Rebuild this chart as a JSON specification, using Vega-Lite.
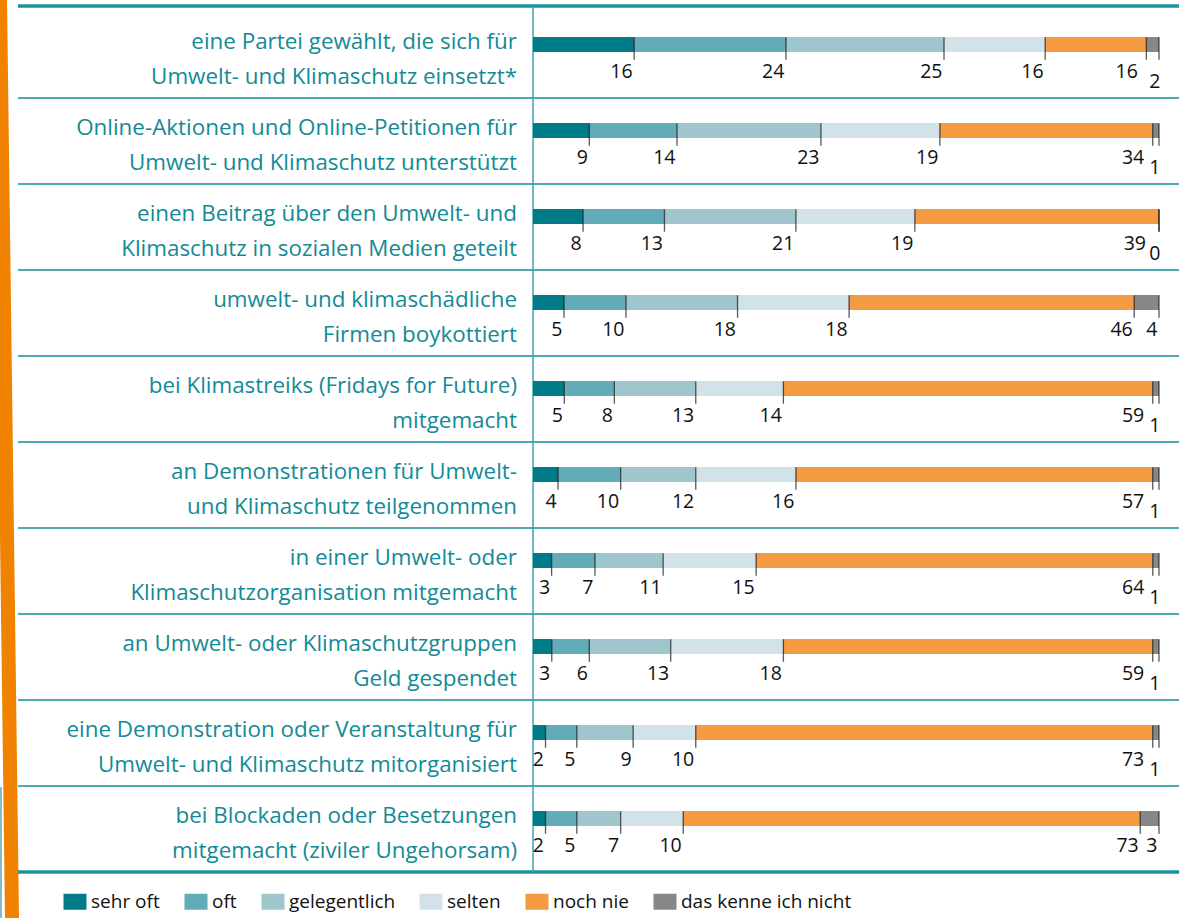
{
  "$schema": "https://vega.github.io/schema/vega-lite/v6.json",
  "width": 1179,
  "height": 918,
  "autosize": {"type": "none"},
  "padding": 0,
  "background": "#ffffff",
  "config": {
    "view": {"stroke": null},
    "font": "Open Sans",
    "legend": {
      "orient": "none",
      "legendX": 65.5,
      "legendY": 892,
      "direction": "horizontal",
      "symbolType": "M-1.4375,-1H1.4375V1H-1.4375Z",
      "symbolSize": 256,
      "symbolStrokeWidth": 0,
      "symbolOpacity": 1,
      "labelFontSize": 19,
      "labelFont": "Open Sans",
      "labelColor": "#111111",
      "labelOffset": 6.5,
      "labelLimit": 400,
      "columnPadding": 24,
      "padding": 0,
      "titlePadding": 0
    }
  },
  "data": {
    "values": [
      {"a": "eine Partei gewählt, die sich für\nUmwelt- und Klimaschutz einsetzt*", "sehr oft": 16, "oft": 24, "gelegentlich": 25, "selten": 16, "noch nie": 16, "das kenne ich nicht": 2},
      {"a": "Online-Aktionen und Online-Petitionen für\nUmwelt- und Klimaschutz unterstützt", "sehr oft": 9, "oft": 14, "gelegentlich": 23, "selten": 19, "noch nie": 34, "das kenne ich nicht": 1},
      {"a": "einen Beitrag über den Umwelt- und\nKlimaschutz in sozialen Medien geteilt", "sehr oft": 8, "oft": 13, "gelegentlich": 21, "selten": 19, "noch nie": 39, "das kenne ich nicht": 0},
      {"a": "umwelt- und klimaschädliche\nFirmen boykottiert", "sehr oft": 5, "oft": 10, "gelegentlich": 18, "selten": 18, "noch nie": 46, "das kenne ich nicht": 4},
      {"a": "bei Klimastreiks (Fridays for Future)\nmitgemacht", "sehr oft": 5, "oft": 8, "gelegentlich": 13, "selten": 14, "noch nie": 59, "das kenne ich nicht": 1},
      {"a": "an Demonstrationen für Umwelt-\nund Klimaschutz teilgenommen", "sehr oft": 4, "oft": 10, "gelegentlich": 12, "selten": 16, "noch nie": 57, "das kenne ich nicht": 1},
      {"a": "in einer Umwelt- oder\nKlimaschutzorganisation mitgemacht", "sehr oft": 3, "oft": 7, "gelegentlich": 11, "selten": 15, "noch nie": 64, "das kenne ich nicht": 1},
      {"a": "an Umwelt- oder Klimaschutzgruppen\nGeld gespendet", "sehr oft": 3, "oft": 6, "gelegentlich": 13, "selten": 18, "noch nie": 59, "das kenne ich nicht": 1},
      {"a": "eine Demonstration oder Veranstaltung für\nUmwelt- und Klimaschutz mitorganisiert", "sehr oft": 2, "oft": 5, "gelegentlich": 9, "selten": 10, "noch nie": 73, "das kenne ich nicht": 1},
      {"a": "bei Blockaden oder Besetzungen\nmitgemacht (ziviler Ungehorsam)", "sehr oft": 2, "oft": 5, "gelegentlich": 7, "selten": 10, "noch nie": 73, "das kenne ich nicht": 3}
    ]
  },
  "transform": [
    {"fold": ["sehr oft", "oft", "gelegentlich", "selten", "noch nie", "das kenne ich nicht"], "as": ["c", "v"]},
    {"stack": "v", "groupby": ["a"], "offset": "normalize", "as": ["x0", "x1"]}
  ],
  "encoding": {
    "y": {"field": "a", "type": "nominal", "sort": null, "axis": null,
          "scale": {"type": "band", "range": [12, 872], "paddingInner": 0, "paddingOuter": 0,
                    "domain": ["eine Partei gewählt, die sich für\nUmwelt- und Klimaschutz einsetzt*", "Online-Aktionen und Online-Petitionen für\nUmwelt- und Klimaschutz unterstützt", "einen Beitrag über den Umwelt- und\nKlimaschutz in sozialen Medien geteilt", "umwelt- und klimaschädliche\nFirmen boykottiert", "bei Klimastreiks (Fridays for Future)\nmitgemacht", "an Demonstrationen für Umwelt-\nund Klimaschutz teilgenommen", "in einer Umwelt- oder\nKlimaschutzorganisation mitgemacht", "an Umwelt- oder Klimaschutzgruppen\nGeld gespendet", "eine Demonstration oder Veranstaltung für\nUmwelt- und Klimaschutz mitorganisiert", "bei Blockaden oder Besetzungen\nmitgemacht (ziviler Ungehorsam)"]}}
  },
  "layer": [
    {
      "transform": [{"filter": {"and": [{"field": "c", "equal": "sehr oft"}, {"field": "a", "equal": "eine Partei gewählt, die sich für\nUmwelt- und Klimaschutz einsetzt*"}]}}],
      "mark": {"type": "rule", "color": "#f08200", "strokeWidth": 14, "yOffset": -55, "y2Offset": 89},
      "encoding": {
        "x": {"datum": -0.85144, "type": "quantitative", "axis": null, "scale": {"domain": [-0.85144, 1.03195], "nice": false, "zero": false}},
        "x2": {"datum": -0.83227},
        "y": {"datum": "eine Partei gewählt, die sich für\nUmwelt- und Klimaschutz einsetzt*", "type": "nominal", "axis": null},
        "y2": {"datum": "bei Blockaden oder Besetzungen\nmitgemacht (ziviler Ungehorsam)"}
      }
    },
    {
      "transform": [{"filter": {"and": [{"field": "c", "equal": "sehr oft"}, {"field": "a", "equal": "eine Partei gewählt, die sich für\nUmwelt- und Klimaschutz einsetzt*"}]}}],
      "mark": {"type": "rule", "color": "#86bcc6", "strokeWidth": 2, "yOffset": -42, "y2Offset": 89},
      "encoding": {
        "x": {"datum": -0.84984, "type": "quantitative", "axis": null, "scale": {"domain": [-0.85144, 1.03195], "nice": false, "zero": false}},
        "y": {"datum": "bei Blockaden oder Besetzungen\nmitgemacht (ziviler Ungehorsam)", "type": "nominal", "axis": null},
        "y2": {"datum": "bei Blockaden oder Besetzungen\nmitgemacht (ziviler Ungehorsam)"}
      }
    },
    {
      "transform": [{"filter": "datum.c == 'sehr oft' && indexof(datum.a, 'eine Partei gewählt') != 0"}],
      "mark": {"type": "rule", "color": "#4eaab5", "strokeWidth": 2, "yOffset": -43},
      "encoding": {
        "x": {"datum": -0.82268, "type": "quantitative", "axis": null, "scale": {"domain": [-0.85144, 1.03195], "nice": false, "zero": false}},
        "x2": {"datum": 1.03195}
      }
    },
    {
      "transform": [{"filter": {"and": [{"field": "c", "equal": "sehr oft"}, {"field": "a", "equal": "eine Partei gewählt, die sich für\nUmwelt- und Klimaschutz einsetzt*"}]}}],
      "mark": {"type": "rule", "color": "#1a93a0", "strokeWidth": 3.5, "yOffset": -49},
      "encoding": {
        "x": {"datum": -0.82268, "type": "quantitative", "axis": null, "scale": {"domain": [-0.85144, 1.03195], "nice": false, "zero": false}},
        "x2": {"datum": 1.03195}
      }
    },
    {
      "transform": [{"filter": {"and": [{"field": "c", "equal": "sehr oft"}, {"field": "a", "equal": "bei Blockaden oder Besetzungen\nmitgemacht (ziviler Ungehorsam)"}]}}],
      "mark": {"type": "rule", "color": "#1a93a0", "strokeWidth": 3.5, "yOffset": 43},
      "encoding": {
        "x": {"datum": -0.82268, "type": "quantitative", "axis": null, "scale": {"domain": [-0.85144, 1.03195], "nice": false, "zero": false}},
        "x2": {"datum": 1.03195}
      }
    },
    {
      "transform": [{"filter": {"and": [{"field": "c", "equal": "sehr oft"}, {"field": "a", "equal": "eine Partei gewählt, die sich für\nUmwelt- und Klimaschutz einsetzt*"}]}}],
      "mark": {"type": "rule", "color": "#3fa3ae", "strokeWidth": 1.5, "yOffset": -49, "y2Offset": 43},
      "encoding": {
        "x": {"datum": 0, "type": "quantitative", "axis": null, "scale": {"domain": [-0.85144, 1.03195], "nice": false, "zero": false}},
        "y": {"datum": "eine Partei gewählt, die sich für\nUmwelt- und Klimaschutz einsetzt*", "type": "nominal", "axis": null},
        "y2": {"datum": "bei Blockaden oder Besetzungen\nmitgemacht (ziviler Ungehorsam)"}
      }
    },
    {
      "mark": {"type": "bar", "height": 15, "yOffset": -10.5},
      "encoding": {
        "x": {"field": "x0", "type": "quantitative", "axis": null, "scale": {"domain": [-0.85144, 1.03195], "nice": false, "zero": false}},
        "x2": {"field": "x1"},
        "color": {
          "field": "c", "type": "nominal", "title": null,
          "scale": {
            "domain": ["sehr oft", "oft", "gelegentlich", "selten", "noch nie", "das kenne ich nicht"],
            "range": ["#007c89", "#62abb8", "#9fc5cd", "#d1e2e8", "#f39a42", "#878787"]
          },
          "legend": {"title": null}
        }
      }
    },
    {
      "mark": {"type": "tick", "color": "#111111", "thickness": 1.3, "size": 22.5, "yOffset": -6.5},
      "encoding": {
        "x": {"field": "x1", "type": "quantitative", "axis": null, "scale": {"domain": [-0.85144, 1.03195], "nice": false, "zero": false}}
      }
    },
    {
      "transform": [{"filter": "!(datum.c == 'das kenne ich nicht' && datum.v <= 2) && !(datum.c == 'noch nie' && datum.x1 > 0.975)"}],
      "mark": {"type": "text", "align": "right", "baseline": "middle", "dx": -1.5, "yOffset": 17, "fontSize": 19.5, "color": "#111111"},
      "encoding": {
        "x": {"field": "x1", "type": "quantitative", "axis": null, "scale": {"domain": [-0.85144, 1.03195], "nice": false, "zero": false}},
        "text": {"field": "v", "type": "quantitative"}
      }
    },
    {
      "transform": [{"filter": "datum.c == 'noch nie' && datum.x1 > 0.975 && datum.x1 < 0.995"}],
      "mark": {"type": "text", "align": "right", "baseline": "middle", "dx": -8.5, "yOffset": 16.5, "fontSize": 19.5, "color": "#111111"},
      "encoding": {
        "x": {"field": "x1", "type": "quantitative", "axis": null, "scale": {"domain": [-0.85144, 1.03195], "nice": false, "zero": false}},
        "text": {"field": "v", "type": "quantitative"}
      }
    },
    {
      "transform": [{"filter": "datum.c == 'noch nie' && datum.x1 >= 0.995"}],
      "mark": {"type": "text", "align": "right", "baseline": "middle", "dx": -13, "yOffset": 16.5, "fontSize": 19.5, "color": "#111111"},
      "encoding": {
        "x": {"field": "x1", "type": "quantitative", "axis": null, "scale": {"domain": [-0.85144, 1.03195], "nice": false, "zero": false}},
        "text": {"field": "v", "type": "quantitative"}
      }
    },
    {
      "transform": [{"filter": "datum.c == 'das kenne ich nicht' && datum.v <= 2"}],
      "mark": {"type": "text", "align": "right", "baseline": "middle", "dx": 1.5, "yOffset": 27, "fontSize": 19.5, "color": "#111111"},
      "encoding": {
        "x": {"field": "x1", "type": "quantitative", "axis": null, "scale": {"domain": [-0.85144, 1.03195], "nice": false, "zero": false}},
        "text": {"field": "v", "type": "quantitative"}
      }
    },
    {
      "transform": [{"filter": {"field": "c", "equal": "sehr oft"}}],
      "mark": {"type": "text", "align": "right", "baseline": "middle", "lineBreak": "\n", "lineHeight": 35, "yOffset": -13, "fontSize": 22.4, "color": "#138a96"},
      "encoding": {
        "x": {"datum": -0.02556, "type": "quantitative", "axis": null, "scale": {"domain": [-0.85144, 1.03195], "nice": false, "zero": false}},
        "text": {"field": "a", "type": "nominal"}
      }
    }
  ]
}
